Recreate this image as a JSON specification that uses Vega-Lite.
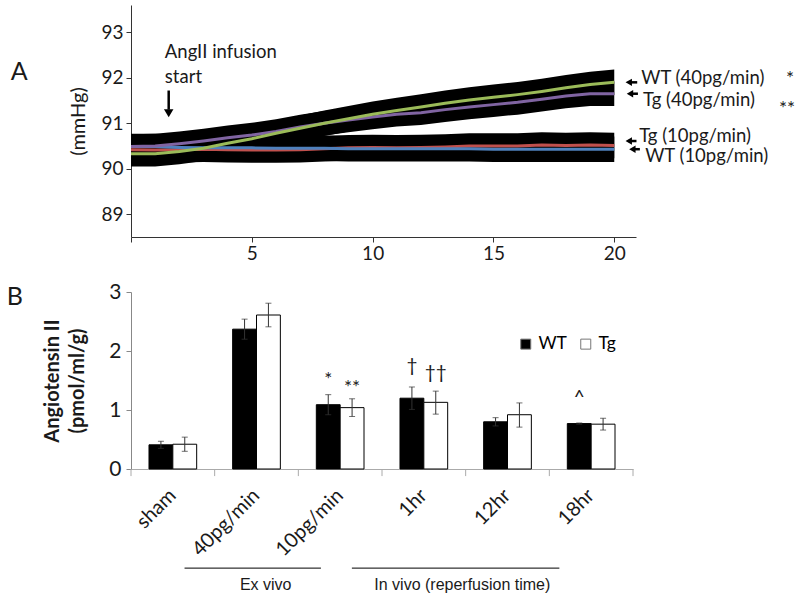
{
  "$schema": "https://vega.github.io/schema/vega-lite/v6.json",
  "padding": {"left": 6, "top": 5, "right": 5, "bottom": 5},
  "background": "white",
  "config": {"font": "Lato", "view": {"stroke": null}, "axis": {"grid": false, "labelColor": "#1a1a1a", "titleColor": "#1a1a1a"}, "text": {"color": "#1a1a1a"}},
  "spacing": 18,
  "datasets": {
    "bp": [
      {"s":"Tg10","t":0,"v":90.42,"lo":90.14,"hi":90.70},{"s":"Tg10","t":1,"v":90.41,"lo":90.13,"hi":90.69},{"s":"Tg10","t":2,"v":90.42,"lo":90.14,"hi":90.70},{"s":"Tg10","t":3,"v":90.43,"lo":90.15,"hi":90.71},{"s":"Tg10","t":4,"v":90.42,"lo":90.14,"hi":90.70},{"s":"Tg10","t":5,"v":90.41,"lo":90.13,"hi":90.69},{"s":"Tg10","t":6,"v":90.41,"lo":90.13,"hi":90.69},{"s":"Tg10","t":7,"v":90.42,"lo":90.14,"hi":90.70},{"s":"Tg10","t":8,"v":90.44,"lo":90.16,"hi":90.72},{"s":"Tg10","t":9,"v":90.46,"lo":90.18,"hi":90.74},{"s":"Tg10","t":10,"v":90.47,"lo":90.19,"hi":90.75},{"s":"Tg10","t":11,"v":90.46,"lo":90.18,"hi":90.74},{"s":"Tg10","t":12,"v":90.47,"lo":90.19,"hi":90.75},{"s":"Tg10","t":13,"v":90.48,"lo":90.20,"hi":90.76},{"s":"Tg10","t":14,"v":90.50,"lo":90.22,"hi":90.78},{"s":"Tg10","t":15,"v":90.50,"lo":90.22,"hi":90.78},{"s":"Tg10","t":16,"v":90.50,"lo":90.22,"hi":90.78},{"s":"Tg10","t":17,"v":90.52,"lo":90.24,"hi":90.80},{"s":"Tg10","t":18,"v":90.51,"lo":90.23,"hi":90.79},{"s":"Tg10","t":19,"v":90.52,"lo":90.24,"hi":90.80},{"s":"Tg10","t":20,"v":90.51,"lo":90.23,"hi":90.79},
      {"s":"WT10","t":0,"v":90.49,"lo":90.21,"hi":90.77},{"s":"WT10","t":1,"v":90.49,"lo":90.21,"hi":90.77},{"s":"WT10","t":2,"v":90.47,"lo":90.19,"hi":90.75},{"s":"WT10","t":3,"v":90.46,"lo":90.18,"hi":90.74},{"s":"WT10","t":4,"v":90.46,"lo":90.18,"hi":90.74},{"s":"WT10","t":5,"v":90.46,"lo":90.18,"hi":90.74},{"s":"WT10","t":6,"v":90.45,"lo":90.17,"hi":90.73},{"s":"WT10","t":7,"v":90.45,"lo":90.17,"hi":90.73},{"s":"WT10","t":8,"v":90.45,"lo":90.17,"hi":90.73},{"s":"WT10","t":9,"v":90.44,"lo":90.16,"hi":90.72},{"s":"WT10","t":10,"v":90.44,"lo":90.16,"hi":90.72},{"s":"WT10","t":11,"v":90.44,"lo":90.16,"hi":90.72},{"s":"WT10","t":12,"v":90.44,"lo":90.16,"hi":90.72},{"s":"WT10","t":13,"v":90.44,"lo":90.16,"hi":90.72},{"s":"WT10","t":14,"v":90.44,"lo":90.16,"hi":90.72},{"s":"WT10","t":15,"v":90.43,"lo":90.15,"hi":90.71},{"s":"WT10","t":16,"v":90.43,"lo":90.15,"hi":90.71},{"s":"WT10","t":17,"v":90.43,"lo":90.15,"hi":90.71},{"s":"WT10","t":18,"v":90.43,"lo":90.15,"hi":90.71},{"s":"WT10","t":19,"v":90.43,"lo":90.15,"hi":90.71},{"s":"WT10","t":20,"v":90.43,"lo":90.15,"hi":90.71},
      {"s":"Tg40","t":0,"v":90.49,"lo":90.22,"hi":90.76},{"s":"Tg40","t":1,"v":90.50,"lo":90.23,"hi":90.77},{"s":"Tg40","t":2,"v":90.55,"lo":90.28,"hi":90.82},{"s":"Tg40","t":3,"v":90.61,"lo":90.34,"hi":90.88},{"s":"Tg40","t":4,"v":90.68,"lo":90.41,"hi":90.95},{"s":"Tg40","t":5,"v":90.74,"lo":90.47,"hi":91.01},{"s":"Tg40","t":6,"v":90.82,"lo":90.55,"hi":91.09},{"s":"Tg40","t":7,"v":90.92,"lo":90.65,"hi":91.19},{"s":"Tg40","t":8,"v":91.00,"lo":90.73,"hi":91.27},{"s":"Tg40","t":9,"v":91.07,"lo":90.80,"hi":91.34},{"s":"Tg40","t":10,"v":91.14,"lo":90.87,"hi":91.41},{"s":"Tg40","t":11,"v":91.20,"lo":90.93,"hi":91.47},{"s":"Tg40","t":12,"v":91.23,"lo":90.96,"hi":91.50},{"s":"Tg40","t":13,"v":91.30,"lo":91.03,"hi":91.57},{"s":"Tg40","t":14,"v":91.36,"lo":91.09,"hi":91.63},{"s":"Tg40","t":15,"v":91.41,"lo":91.14,"hi":91.68},{"s":"Tg40","t":16,"v":91.46,"lo":91.19,"hi":91.73},{"s":"Tg40","t":17,"v":91.53,"lo":91.26,"hi":91.80},{"s":"Tg40","t":18,"v":91.60,"lo":91.33,"hi":91.87},{"s":"Tg40","t":19,"v":91.65,"lo":91.38,"hi":91.92},{"s":"Tg40","t":20,"v":91.65,"lo":91.38,"hi":91.92},
      {"s":"WT40","t":0,"v":90.33,"lo":90.05,"hi":90.61},{"s":"WT40","t":1,"v":90.33,"lo":90.05,"hi":90.61},{"s":"WT40","t":2,"v":90.38,"lo":90.10,"hi":90.66},{"s":"WT40","t":3,"v":90.45,"lo":90.17,"hi":90.73},{"s":"WT40","t":4,"v":90.56,"lo":90.28,"hi":90.84},{"s":"WT40","t":5,"v":90.66,"lo":90.38,"hi":90.94},{"s":"WT40","t":6,"v":90.78,"lo":90.50,"hi":91.06},{"s":"WT40","t":7,"v":90.89,"lo":90.61,"hi":91.17},{"s":"WT40","t":8,"v":91.00,"lo":90.72,"hi":91.28},{"s":"WT40","t":9,"v":91.10,"lo":90.82,"hi":91.38},{"s":"WT40","t":10,"v":91.20,"lo":90.92,"hi":91.48},{"s":"WT40","t":11,"v":91.28,"lo":91.00,"hi":91.56},{"s":"WT40","t":12,"v":91.36,"lo":91.08,"hi":91.64},{"s":"WT40","t":13,"v":91.44,"lo":91.16,"hi":91.72},{"s":"WT40","t":14,"v":91.51,"lo":91.23,"hi":91.79},{"s":"WT40","t":15,"v":91.57,"lo":91.29,"hi":91.85},{"s":"WT40","t":16,"v":91.63,"lo":91.35,"hi":91.91},{"s":"WT40","t":17,"v":91.70,"lo":91.42,"hi":91.98},{"s":"WT40","t":18,"v":91.78,"lo":91.50,"hi":92.06},{"s":"WT40","t":19,"v":91.85,"lo":91.57,"hi":92.13},{"s":"WT40","t":20,"v":91.90,"lo":91.62,"hi":92.18}
    ],
    "annAleft": [
      {"t":1.4,"v":92.56,"label":"AngII infusion"},
      {"t":1.4,"v":92.01,"label":"start"},
      {"t":21.12,"v":92.0,"label":"WT (40pg/min)"},
      {"t":21.19,"v":91.52,"label":"Tg (40pg/min)"},
      {"t":21.03,"v":90.72,"label":"Tg (10pg/min)"},
      {"t":21.28,"v":90.28,"label":"WT (10pg/min)"}
    ],
    "annAcenter": [
      {"t":27.27,"v":91.97,"label":"*"},
      {"t":27.15,"v":91.31,"label":"**"}
    ],
    "annAbig": [{"t":-4.63,"v":92.13,"label":"A"}],
    "shafts": [
      {"t":1.56,"t2":1.56,"v":91.72,"v2":91.3},
      {"t":20.6,"t2":20.95,"v":91.9,"v2":91.9},
      {"t":20.65,"t2":20.98,"v":91.65,"v2":91.65},
      {"t":20.6,"t2":20.92,"v":90.61,"v2":90.61},
      {"t":20.75,"t2":21.06,"v":90.43,"v2":90.43}
    ],
    "headDown": [{"t":1.56,"v":91.22}],
    "headLeft": [
      {"t":20.6,"v":91.9},
      {"t":20.65,"v":91.65},
      {"t":20.6,"v":90.61},
      {"t":20.75,"v":90.43}
    ],
    "bars": [
      {"cat":"sham","grp":"WT","val":0.41,"lo":0.35,"hi":0.47},
      {"cat":"sham","grp":"Tg","val":0.42,"lo":0.30,"hi":0.54},
      {"cat":"40pg/min","grp":"WT","val":2.37,"lo":2.20,"hi":2.54},
      {"cat":"40pg/min","grp":"Tg","val":2.61,"lo":2.41,"hi":2.81},
      {"cat":"10pg/min","grp":"WT","val":1.09,"lo":0.92,"hi":1.26},
      {"cat":"10pg/min","grp":"Tg","val":1.04,"lo":0.89,"hi":1.19},
      {"cat":"1hr","grp":"WT","val":1.20,"lo":1.01,"hi":1.39},
      {"cat":"1hr","grp":"Tg","val":1.13,"lo":0.93,"hi":1.32},
      {"cat":"12hr","grp":"WT","val":0.80,"lo":0.73,"hi":0.87},
      {"cat":"12hr","grp":"Tg","val":0.92,"lo":0.71,"hi":1.12},
      {"cat":"18hr","grp":"WT","val":0.77,"lo":0.76,"hi":0.78},
      {"cat":"18hr","grp":"Tg","val":0.76,"lo":0.66,"hi":0.86}
    ],
    "annB": [
      {"cat":"10pg/min","grp":"WT","ay":1.51,"label":"*"},
      {"cat":"10pg/min","grp":"Tg","ay":1.37,"label":"**"},
      {"cat":"1hr","grp":"WT","ay":1.75,"label":"†"},
      {"cat":"1hr","grp":"Tg","ay":1.63,"label":"††"},
      {"cat":"18hr","grp":"WT","ay":1.21,"label":"^"}
    ],
    "brackets": [
      {"q1":0.64,"q2":2.27,"y":-1.68},
      {"q1":2.64,"q2":5.12,"y":-1.68}
    ],
    "bracketText": [
      {"q":1.61,"y":-1.96,"label":"Ex vivo"},
      {"q":3.96,"y":-1.96,"label":"In vivo (reperfusion time)"}
    ],
    "bounds": [{"q":0},{"q":1},{"q":2},{"q":3},{"q":4},{"q":5},{"q":6}],
    "annBbig": [{"q":-1.39,"y":2.92,"label":"B"}]
  },
  "vconcat": [
    {
      "width": 505,
      "height": 232,
      "layer": [
        {
          "data": {"name": "bp"},
          "mark": {"type": "area", "color": "black", "opacity": 1},
          "encoding": {
            "x": {"field": "t", "type": "quantitative", "scale": {"domain": [0, 20.9], "nice": false, "zero": false},
                  "axis": {"values": [0, 5, 10, 15, 20], "labelExpr": "datum.value == 0 ? '' : datum.label", "title": null, "tickSize": 5, "labelFontSize": 19, "labelPadding": 2, "domainColor": "#333", "tickColor": "#333"}},
            "y": {"field": "lo", "type": "quantitative", "scale": {"domain": [88.5, 93.6], "nice": false, "zero": false},
                  "axis": {"values": [89, 90, 91, 92, 93], "title": "(mmHg)", "titleFontSize": 20, "titleFontWeight": "normal", "titlePadding": 12, "tickSize": 5, "labelFontSize": 19, "labelPadding": 3, "domainColor": "#333", "tickColor": "#333"}},
            "y2": {"field": "hi"},
            "detail": {"field": "s"}
          }
        },
        {
          "data": {"name": "bp"},
          "mark": {"type": "line", "strokeWidth": 3},
          "encoding": {
            "x": {"field": "t", "type": "quantitative"},
            "y": {"field": "v", "type": "quantitative"},
            "color": {"field": "s", "type": "nominal", "scale": {"domain": ["Tg10", "WT10", "Tg40", "WT40"], "range": ["#C0504D", "#4F81BD", "#8064A2", "#9BBB59"]}, "legend": null}
          }
        },
        {
          "data": {"name": "annAleft"},
          "mark": {"type": "text", "align": "left", "baseline": "middle", "fontSize": 18.5},
          "encoding": {"x": {"field": "t", "type": "quantitative"}, "y": {"field": "v", "type": "quantitative"}, "text": {"field": "label"}}
        },
        {
          "data": {"name": "annAcenter"},
          "mark": {"type": "text", "align": "center", "baseline": "middle", "fontSize": 19},
          "encoding": {"x": {"field": "t", "type": "quantitative"}, "y": {"field": "v", "type": "quantitative"}, "text": {"field": "label"}}
        },
        {
          "data": {"name": "annAbig"},
          "mark": {"type": "text", "align": "center", "baseline": "middle", "fontSize": 25},
          "encoding": {"x": {"field": "t", "type": "quantitative"}, "y": {"field": "v", "type": "quantitative"}, "text": {"field": "label"}}
        },
        {
          "data": {"name": "shafts"},
          "mark": {"type": "rule", "color": "black", "strokeWidth": 2.5},
          "encoding": {"x": {"field": "t", "type": "quantitative"}, "x2": {"field": "t2"}, "y": {"field": "v", "type": "quantitative"}, "y2": {"field": "v2"}}
        },
        {
          "data": {"name": "headDown"},
          "mark": {"type": "point", "shape": "triangle-down", "filled": true, "color": "black", "opacity": 1, "size": 90},
          "encoding": {"x": {"field": "t", "type": "quantitative"}, "y": {"field": "v", "type": "quantitative"}}
        },
        {
          "data": {"name": "headLeft"},
          "mark": {"type": "point", "shape": "triangle-left", "filled": true, "color": "black", "opacity": 1, "size": 55},
          "encoding": {"x": {"field": "t", "type": "quantitative"}, "y": {"field": "v", "type": "quantitative"}}
        }
      ]
    },
    {
      "width": 502,
      "height": 177,
      "resolve": {"scale": {"x": "independent"}},
      "layer": [
        {
          "layer": [
            {
              "data": {"name": "bars"},
              "mark": {"type": "bar", "stroke": "black", "strokeWidth": 1},
              "encoding": {
                "x": {"field": "cat", "type": "nominal", "sort": ["sham", "40pg/min", "10pg/min", "1hr", "12hr", "18hr"],
                      "scale": {"domain": ["sham", "40pg/min", "10pg/min", "1hr", "12hr", "18hr"], "paddingInner": 0.43, "paddingOuter": 0.215},
                      "axis": {"title": null, "labelAngle": -45, "labelAlign": "right", "labelBaseline": "middle", "labelFontSize": 20, "labelPadding": 23, "labelOffset": 0, "ticks": false, "tickSize": 0, "domainColor": "#aaa"}},
                "xOffset": {"field": "grp", "type": "nominal", "sort": ["WT", "Tg"], "scale": {"domain": ["WT", "Tg"], "paddingInner": 0, "paddingOuter": 0}},
                "y": {"field": "val", "type": "quantitative", "scale": {"domain": [0, 3], "nice": false},
                      "axis": {"values": [0, 0.5, 1, 1.5, 2, 2.5, 3], "format": "~g", "title": ["Angiotensin II", "(pmol/ml/g)"], "titleFontSize": 20, "titleFontWeight": "bold", "titleLineHeight": 25, "titlePadding": 21, "tickSize": 5, "labelFontSize": 21, "labelPadding": 5, "domainColor": "#888", "tickColor": "#888"}},
                "fill": {"field": "grp", "type": "nominal", "scale": {"domain": ["WT", "Tg"], "range": ["black", "white"]},
                         "legend": {"title": null, "orient": "none", "legendX": 386, "legendY": 330, "direction": "horizontal", "symbolType": "square", "symbolSize": 100, "symbolStrokeColor": "#777", "symbolStrokeWidth": 1, "labelFontSize": 17.5, "labelOffset": 4, "columnPadding": 10, "padding": 0}}
              }
            },
            {
              "data": {"name": "bars"},
              "mark": {"type": "rule", "color": "#333", "strokeWidth": 1},
              "encoding": {
                "x": {"field": "cat", "type": "nominal", "sort": ["sham", "40pg/min", "10pg/min", "1hr", "12hr", "18hr"]},
                "xOffset": {"field": "grp", "type": "nominal", "sort": ["WT", "Tg"]},
                "y": {"field": "lo", "type": "quantitative"},
                "y2": {"field": "hi"}
              }
            },
            {
              "data": {"name": "bars"},
              "mark": {"type": "tick", "color": "#333", "thickness": 1, "size": 6, "orient": "horizontal"},
              "encoding": {
                "x": {"field": "cat", "type": "nominal", "sort": ["sham", "40pg/min", "10pg/min", "1hr", "12hr", "18hr"]},
                "xOffset": {"field": "grp", "type": "nominal", "sort": ["WT", "Tg"]},
                "y": {"field": "hi", "type": "quantitative"}
              }
            },
            {
              "data": {"name": "bars"},
              "mark": {"type": "tick", "color": "#333", "thickness": 1, "size": 6, "orient": "horizontal"},
              "encoding": {
                "x": {"field": "cat", "type": "nominal", "sort": ["sham", "40pg/min", "10pg/min", "1hr", "12hr", "18hr"]},
                "xOffset": {"field": "grp", "type": "nominal", "sort": ["WT", "Tg"]},
                "y": {"field": "lo", "type": "quantitative"}
              }
            },
            {
              "data": {"name": "annB"},
              "mark": {"type": "text", "align": "center", "baseline": "middle", "fontSize": 19},
              "encoding": {
                "x": {"field": "cat", "type": "nominal", "sort": ["sham", "40pg/min", "10pg/min", "1hr", "12hr", "18hr"]},
                "xOffset": {"field": "grp", "type": "nominal", "sort": ["WT", "Tg"]},
                "y": {"field": "ay", "type": "quantitative"},
                "text": {"field": "label"}
              }
            }
          ]
        },
        {
          "layer": [
            {
              "data": {"name": "bounds"},
              "mark": {"type": "rule", "color": "#aaa", "strokeWidth": 1},
              "encoding": {
                "x": {"field": "q", "type": "quantitative", "scale": {"domain": [0, 6], "nice": false, "zero": false}, "axis": null},
                "y": {"datum": 0, "type": "quantitative"},
                "y2": {"datum": -0.12}
              }
            },
            {
              "data": {"name": "brackets"},
              "mark": {"type": "rule", "color": "black", "strokeWidth": 1},
              "encoding": {
                "x": {"field": "q1", "type": "quantitative"},
                "x2": {"field": "q2"},
                "y": {"field": "y", "type": "quantitative"}
              }
            },
            {
              "data": {"name": "bracketText"},
              "mark": {"type": "text", "align": "center", "baseline": "middle", "fontSize": 16, "font": "Liberation Sans"},
              "encoding": {
                "x": {"field": "q", "type": "quantitative"},
                "y": {"field": "y", "type": "quantitative"},
                "text": {"field": "label"}
              }
            },
            {
              "data": {"name": "annBbig"},
              "mark": {"type": "text", "align": "center", "baseline": "middle", "fontSize": 25},
              "encoding": {
                "x": {"field": "q", "type": "quantitative"},
                "y": {"field": "y", "type": "quantitative"},
                "text": {"field": "label"}
              }
            }
          ]
        }
      ]
    }
  ]
}
